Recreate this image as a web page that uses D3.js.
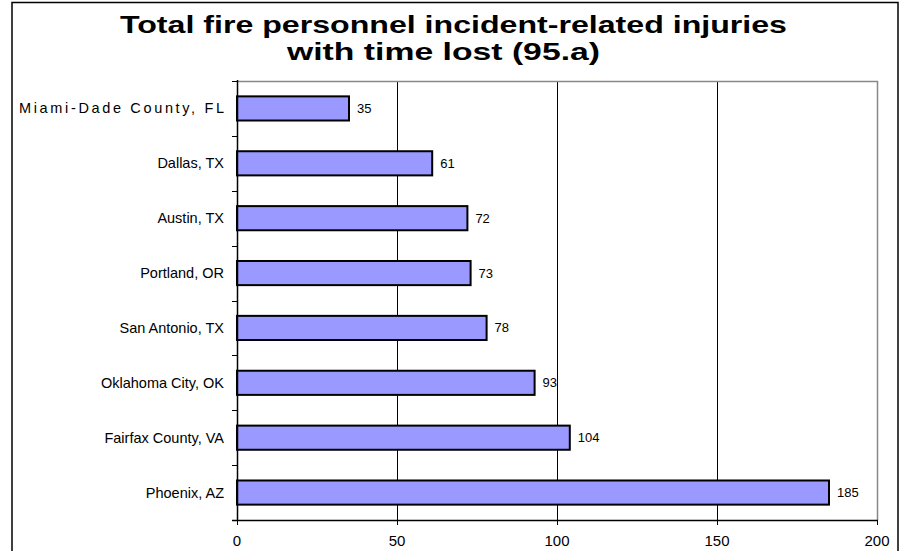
<!DOCTYPE html>
<html><head><meta charset="utf-8">
<script src="https://cdn.jsdelivr.net/npm/d3@7"></script>
<style>body{margin:0;background:#fff}svg{display:block}text{font-family:Arial,"Liberation Sans",sans-serif}</style>
</head><body><svg id="c" width="904" height="551"></svg>
<script>
const categories = ["Miami-Dade County, FL","Dallas, TX","Austin, TX","Portland, OR","San Antonio, TX","Oklahoma City, OK","Fairfax County, VA","Phoenix, AZ"];
const values = [35,61,72,73,78,93,104,185];
const xTicks = [0,50,100,150,200];
const titleLines = ["Total fire personnel incident-related injuries","with time lost (95.a)"];

const svg = d3.select("#c");
const L = 237, R = 877, T = 81, B = 520;
// outer frame
svg.append("rect").attr("x",12).attr("y",2.5).attr("width",886).attr("height",560)
  .attr("fill","none").attr("stroke","#000").attr("stroke-width",1.5);

const titleLayout = [{x:120,y:33,w:667},{x:287,y:60,w:313}];
svg.selectAll("text.title").data(titleLines).join("text").attr("class","title")
  .attr("x",(d,i)=>titleLayout[i].x).attr("y",(d,i)=>titleLayout[i].y)
  .attr("textLength",(d,i)=>titleLayout[i].w).attr("lengthAdjust","spacingAndGlyphs")
  .attr("font-size",24).attr("font-weight","bold").text(d=>d);

const x = d3.scaleLinear().domain([0,200]).range([L,R]);
const y = d3.scaleBand().domain(categories).range([T,B]).paddingInner(0.56).paddingOuter(0.28);

// gridlines
svg.selectAll("line.grid").data(xTicks.filter(t=>t>0&&t<200)).join("line").attr("class","grid")
  .attr("x1",d=>x(d)+0.5).attr("x2",d=>x(d)+0.5).attr("y1",T).attr("y2",B).attr("stroke","#000");
// plot border top/right gray
svg.append("path").attr("d",`M${L},${T+0.5}H${R+0.5}V${B}`).attr("fill","none").attr("stroke","#888").attr("stroke-width",1.5);

// bars
svg.selectAll("rect.bar").data(values).join("rect").attr("class","bar")
  .attr("x",x(0)).attr("y",(d,i)=>y(categories[i]))
  .attr("width",d=>x(d)-x(0)).attr("height",y.bandwidth())
  .attr("fill","#9999FF").attr("stroke","#000").attr("stroke-width",2);

svg.selectAll("text.val").data(values).join("text").attr("class","val")
  .attr("x",d=>x(d)+8).attr("y",(d,i)=>y(categories[i])+y.bandwidth()/2+4.5)
  .attr("font-size",13).text(d=>d);

// y axis
const bounds = d3.range(categories.length+1).map(i=>T+i*(B-T)/categories.length);
svg.append("line").attr("x1",L+0.5).attr("x2",L+0.5).attr("y1",T-1).attr("y2",B).attr("stroke","#000").attr("stroke-width",1.5);
svg.selectAll("line.yt").data(bounds).join("line").attr("class","yt")
  .attr("x1",L-5).attr("x2",L).attr("y1",d=>Math.round(d)+0.5).attr("y2",d=>Math.round(d)+0.5).attr("stroke","#000");
svg.selectAll("text.cat").data(categories).join("text").attr("class","cat")
  .attr("x",224).attr("y",d=>y(d)+y.bandwidth()/2+5).attr("text-anchor","end")
  .attr("textLength",(d,i)=>i===0?205:null).attr("lengthAdjust","spacing")
  .attr("font-size",14.5).text(d=>d);

// x axis
svg.append("line").attr("x1",L-5).attr("x2",R+1).attr("y1",B+0.5).attr("y2",B+0.5).attr("stroke","#000").attr("stroke-width",1.5);
svg.selectAll("line.xt").data(xTicks).join("line").attr("class","xt")
  .attr("x1",d=>x(d)+0.5).attr("x2",d=>x(d)+0.5).attr("y1",B).attr("y2",B+5).attr("stroke","#000");
svg.selectAll("text.xl").data(xTicks).join("text").attr("class","xl")
  .attr("x",d=>x(d)).attr("y",546).attr("text-anchor","middle").attr("font-size",15).text(d=>d);
</script></body></html>
